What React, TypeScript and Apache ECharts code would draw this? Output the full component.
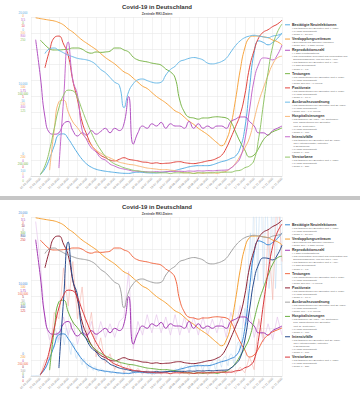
import React, { useEffect, useRef } from "react";
import * as echarts from "echarts";

const DATES = [
  "01.03.2020", "06.03.2020", "11.03.2020", "16.03.2020", "21.03.2020", "26.03.2020", "31.03.2020",
  "05.04.2020", "10.04.2020", "15.04.2020", "20.04.2020", "25.04.2020", "30.04.2020",
  "05.05.2020", "10.05.2020", "15.05.2020", "20.05.2020", "25.05.2020", "30.05.2020",
  "04.06.2020", "09.06.2020", "14.06.2020", "19.06.2020", "24.06.2020", "29.06.2020",
  "04.07.2020", "09.07.2020", "14.07.2020", "19.07.2020", "24.07.2020", "29.07.2020",
  "03.08.2020", "08.08.2020", "13.08.2020", "18.08.2020", "23.08.2020", "28.08.2020",
  "02.09.2020", "07.09.2020", "12.09.2020", "17.09.2020", "22.09.2020", "27.09.2020",
  "02.10.2020", "07.10.2020", "12.10.2020", "17.10.2020", "22.10.2020", "27.10.2020",
  "01.11.2020", "06.11.2020", "11.11.2020", "16.11.2020", "21.11.2020", "26.11.2020",
];

const NEUINFEKTIONEN = [null, null, 200, 900, 2200, 3800, 5200, 5300, 4700, 3800, 2900, 2100, 1500, 1100, 850, 700, 600, 520, 450, 380, 340, 330, 420, 480, 450, 400, 380, 400, 450, 520, 600, 700, 850, 1000, 1150, 1250, 1300, 1300, 1300, 1400, 1600, 1800, 1950, 2200, 2500, 3500, 6000, 11000, 15500, 17000, 16800, 16500, 16800, 17300, 18000];
const VERDOPPLUNG = [null, 1, 2, 3, 4, 5, 7, 10, 15, 19, 24, 29, 33, 37, 41, 46, 51, 55, 59, 64, 69, 72, 77, 82, 87, 90, 95, 100, 104, 108, 113, 118, 121, 126, 131, 135, 140, 144, 148, 153, 158, 162, 155, 136, 104, 67, 39, 26, 24, 24, 25, 26, 29, 31, 35];
const REPRODUKTION = [null, 3.0, 2.2, 1.3, 0.95, 0.92, 0.95, 1.15, 1.2, 1.0, 0.88, 0.95, 0.9, 1.0, 0.92, 0.98, 1.05, 0.95, 1.05, 1.0, 1.15, 1.75, 0.7, 0.95, 1.1, 1.05, 1.15, 1.1, 1.18, 1.05, 1.15, 1.1, 1.1, 1.05, 1.2, 1.05, 1.15, 1.05, 1.1, 1.05, 1.1, 1.1, 1.05, 1.2, 1.25, 1.3, 1.3, 1.2, 1.1, 0.95, 0.95, 0.9, 1.0, 1.05, 1.1];
const TESTUNGEN = [null, null, 29000, 35000, 40000, 41500, 41500, 41000, 40500, 39000, 39000, 40500, 44000, 45500, 44000, 44500, 44000, 43000, 39000, 39000, 41500, 44000, 50500, 54000, 55500, 56500, 58000, 59000, 60500, 65500, 69000, 76500, 104500, 119500, 126000, 127000, 128500, 127000, 127000, 126000, 125500, 126000, 127000, 132000, 144500, 157000, 167500, 176000, 173500, 165000, 154500, 148500, 144500, 142000, 139500];
const POSITIVRATE = [null, null, null, 6.8, 7.9, 8.7, 8.8, 8.3, 7.6, 6.0, 4.8, 3.4, 2.6, 1.95, 1.6, 1.3, 1.15, 1.0, 0.95, 1.05, 1.15, 1.05, 1.0, 0.95, 0.88, 0.86, 0.8, 0.83, 0.78, 0.8, 0.82, 0.88, 0.9, 0.84, 0.8, 0.78, 0.82, 0.88, 0.95, 1.0, 1.12, 1.3, 1.75, 2.4, 3.1, 3.85, 5.1, 6.8, 7.9, 8.7, 9.05, 9.2, 9.4, 9.55, 9.8];
const AUSBRUCH = [null, null, null, 23, 20, 19.5, 21, 22.5, 24, 25, 26, 26.5, 27, 28, 30, 33, 35, 38, 41, 43, 57, 47, 42, 39.5, 39, 40, 41, 41.5, 41, 36.5, 33, 31, 28, 27, 26, 25.5, 26, 27, 29, 29.5, 29, 28, 26, 22, 18, 15, 13, 12, 11.5, 12, 12.5, 13, 12, 11.5, 10.5];
const HOSPITAL = [null, null, null, null, 11, 87, 140, 143, 121, 102, 91, 79, 70, 58, 49, 43, 38, 34, 30, 26, 24, 22, 21, 19, 17, 15, 14, 13, 12, 12, 11, 10, 8, 6, 6, 5, 6, 5, 6, 6, 5, 7, 9, 15, 24, 38, 53, 72, 106, 140, 166, 190, 211, 223, 226];
const INTENSIV = [null, null, null, null, null, null, 40, 382, 674, 483, 407, 231, 181, 141, 121, 91, 80, 60, 50, 40, 35, 30, 25, 24, 22, 21, 20, 22, 20, 21, 23, 22, 24, 23, 25, 24, 26, 25, 27, 26, 28, 29, 30, 40, 60, 91, 181, 332, 483, 563, 594, 592, 584, 609, 659];
const VERSTORBENE = [null, null, 2, 16, 41, 75, 107, 127, 135, 134, 123, 104, 85, 68, 53, 41, 31, 24, 19, 16, 13, 11, 9, 8, 7, 6, 6, 5, 5, 5, 4, 5, 5, 5, 5, 4, 5, 5, 5, 5, 6, 6, 6, 6, 8, 9, 13, 16, 25, 60, 113, 163, 204, 226, 239];

// raw daily values (bottom panel)
const RAW_NEUINFEKTIONEN = [
  10, 15, 20, 30, 25, 40, 60, 50, 80, 120,
  150, 250, 400, 500, 700, 900, 1000, 1400, 1800, 2200,
  2000, 2400, 2900, 3500, 3900, 3600, 4400, 5000, 5500, 4200,
  4600, 6200, 6400, 6100, 5600, 4400, 3900, 5200, 6000, 5800,
  5000, 3800, 3100, 2700, 3900, 4200, 4000, 3500, 2400, 2200,
  2800, 3000, 2600, 2300, 1700, 1400, 2000, 2200, 1900, 1600,
  1100, 900, 1300, 1600, 1400, 1200, 800, 700, 1100, 1200,
  1000, 900, 600, 550, 800, 900, 850, 800, 700, 450,
  400, 650, 750, 650, 550, 450, 300, 400, 650, 600,
  500, 450, 300, 250, 400, 450, 400, 350, 300, 200,
  250, 350, 400, 350, 300, 250, 300, 450, 550, 600,
  650, 500, 350, 300, 550, 600, 550, 500, 400, 300,
  350, 500, 550, 500, 450, 350, 250, 400, 450, 400,
  380, 350, 250, 200, 400, 450, 450, 400, 350, 250,
  300, 500, 550, 600, 550, 400, 350, 600, 700, 650,
  750, 550, 450, 700, 800, 850, 900, 650, 550, 850,
  1000, 1100, 1150, 750, 600, 1100, 1300, 1350, 1300, 1200,
  800, 650, 1400, 1500, 1600, 1500, 1400, 800, 700, 1300,
  1500, 1500, 1600, 1400, 850, 650, 1200, 1300, 1400, 1400,
  1300, 850, 700, 1400, 1600, 1800, 1700, 1500, 900, 800,
  1800, 2000, 2200, 2100, 1400, 1100, 1900, 2200, 2400, 2500,
  2300, 1500, 1300, 2300, 2600, 2800, 2700, 2500, 1600, 1500,
  2800, 3600, 4000, 4300, 4100, 2900, 2600, 5500, 6800, 7500,
  8500, 7000, 6500, 11000, 14500, 16000, 18000, 15000, 12000, 19000,
  23000, 24500, 22000, 15500, 12000, 18000, 21500, 23000, 22500, 16000,
  11500, 14000, 19500, 22000, 21500, 18000, 11000, 12500, 17500, 22000,
  23500, 22500, 16000, 11000, 13500, 18500, 23000, 24000, 21500, 15000, 12000,
];
const RAW_REPRODUKTION = [null, 3.4, 2.5, 1.2, 0.8, 1.1, 0.8, 1.3, 0.9, 1.2, 0.7, 1.1, 0.8, 1.2, 0.8, 1.2, 0.85, 1.15, 0.85, 1.2, 1.3, 2.3, 0.6, 1.2, 0.9, 1.35, 0.95, 1.35, 0.95, 1.3, 0.9, 1.35, 0.9, 1.3, 0.95, 1.3, 0.9, 1.3, 0.9, 1.25, 0.95, 1.3, 0.85, 1.4, 1.05, 1.55, 1.1, 1.45, 0.85, 1.2, 0.75, 1.15, 0.8, 1.3, 0.9];
const RAW_VERSTORBENE = [null, null, 0, 25, 30, 100, 90, 170, 110, 180, 90, 140, 60, 100, 30, 60, 20, 35, 10, 25, 5, 18, 4, 12, 3, 10, 2, 9, 3, 8, 2, 9, 3, 8, 2, 8, 3, 9, 2, 8, 4, 9, 3, 10, 4, 14, 5, 30, 10, 90, 60, 230, 120, 300, 180];

const NAMES = ["Bestätigte Neuinfektionen", "Verdopplungszeitraum", "Reproduktionszahl", "Testungen", "Positivrate", "Ausbruchszuordnung", "Hospitalisierungen", "Intensivfälle", "Verstorbene"];
const SERIES_DATA = [NEUINFEKTIONEN, VERDOPPLUNG, REPRODUKTION, TESTUNGEN, POSITIVRATE, AUSBRUCH, HOSPITAL, INTENSIV, VERSTORBENE];
const SCALE_MAX = [20000, 200, 3.5, 200000, 10, 100, 300, 800, 250];
const SCALE_INVERSE = [false, true, false, true, false, true, false, false, false];

const STACK_TOP = ["20.000", "0", "3,5", "0", "10", "0", "300", "800", "250"];
const STACK_MID = ["10.000", "100", "1,75", "100.000", "5", "50", "150", "400", "125"];
const STACK_BOT = ["0", "200", "0", "200.000", "0", "100", "0", "0", "0"];

const BULLETS = [
  ["• aus täglichen RKI-Berichten (seit 4. März)", "• 14-Tage-Durchschnitt", "• Skala: 0 – 20.000"],
  ["• Berechnung aus täglichen Fallzahlen", "• Skala: 200 – 0 Tage (invers)"],
  ["• 4-Tage-Punktschätzung", "• aus Meldedatum (berechnet aus Meldedatum und", "  Erkrankungsbeginn; vom RKI bis 7. April)", "• aus täglichen RKI-Berichten (seit 7. April)", "• 7-Tage-Durchschnitt", "• Skala: 0 – 3,5"],
  ["• aus wöchentlichen RKI-Berichten (seit 9. März)", "• 14-Tage-Durchschnitt", "• Skala: 200.000 – 0 (invers)"],
  ["• aus wöchentlichen RKI-Berichten (seit 9. März)", "• 14-Tage-Durchschnitt", "• Skala: 0 – 10 %"],
  ["• aus wöchentlichen RKI-Berichten (seit 23. März)", "• 14-Tage-Durchschnitt", "• Skala: 100 – 0 % (invers)"],
  ["• aus täglichen (23. März – 10. September)", "  bzw. wöchentlichen RKI-Berichten", "  (seit 11. September)", "• 14-Tage-Durchschnitt", "• Skala: 0 – 300"],
  ["• aus täglichen RKI-Berichten (seit 27. März)", "  (DIVI-Intensivregister, Patienten", "  in Behandlung)", "• 14-Tage-Durchschnitt", "• Skala: 0 – 800"],
  ["• aus täglichen RKI-Berichten (seit 4. März)", "• 14-Tage-Durchschnitt", "• Skala: 0 – 250"],
];

const TOP_COLORS = ["#58aee3", "#f7a541", "#b252c2", "#7bb64a", "#e2463f", "#6dbbe8", "#f9b97a", "#c56bcc", "#93c56a"];
const BOTTOM_COLORS = ["#3a8ad6", "#f5a033", "#a338b3", "#f26a45", "#8e2234", "#a3a3a3", "#6cb043", "#274b8e", "#d8363a"];
const RAW_COLORS = ["#b9d7f0", "#e3bde9", "#f5b3ab"];

const FONT = "'Liberation Sans', Arial, sans-serif";

function buildOption() {
  const grid: any[] = [];
  const xAxis: any[] = [];
  const yAxis: any[] = [];
  const series: any[] = [];
  const graphic: any[] = [];

  graphic.push({ type: "rect", silent: true, shape: { x: 0, y: 196, width: 360, height: 4 }, style: { fill: "#c6c6c6" } });

  for (let p = 0; p < 2; p++) {
    const oy = p * 200;
    const colors = p === 0 ? TOP_COLORS : BOTTOM_COLORS;
    grid.push({ left: 31, top: 17 + oy, width: 251, height: 159 });
    xAxis.push({
      type: "category", gridIndex: p, data: DATES, boundaryGap: false,
      axisLine: { lineStyle: { color: "#cfcfcf", width: 0.6 } },
      axisTick: { show: false },
      axisLabel: { interval: 1, rotate: 45, fontSize: 3, color: "#8a8a8a", margin: 2, fontFamily: FONT },
      splitLine: { show: true, interval: 1, lineStyle: { color: "#e6e6e6", width: 0.5 } },
    });
    xAxis.push({ type: "value", gridIndex: p, min: 0, max: RAW_NEUINFEKTIONEN.length - 1, show: false });
    const base = yAxis.length;
    yAxis.push({
      type: "value", gridIndex: p, min: 0, max: 10, interval: 1,
      axisLabel: { show: false }, axisLine: { show: false }, axisTick: { show: false },
      splitLine: { show: true, lineStyle: { color: "#e2e2e2", width: 0.5 } },
    });
    for (let k = 0; k < 9; k++) {
      yAxis.push({ type: "value", gridIndex: p, min: 0, max: SCALE_MAX[k], inverse: SCALE_INVERSE[k], show: false });
    }
    if (p === 1) {
      series.push({
        type: "line", name: "raw0", xAxisIndex: 2 * p + 1, yAxisIndex: base + 1,
        data: RAW_NEUINFEKTIONEN.map((v, d) => [d, v]), symbol: "none", z: 1,
        lineStyle: { width: 0.5, color: RAW_COLORS[0] }, silent: true,
      });
      series.push({
        type: "line", name: "raw2", xAxisIndex: 2 * p, yAxisIndex: base + 3,
        data: RAW_REPRODUKTION, symbol: "none", z: 1,
        lineStyle: { width: 0.6, color: RAW_COLORS[1] }, silent: true,
      });
      series.push({
        type: "line", name: "raw8", xAxisIndex: 2 * p, yAxisIndex: base + 9,
        data: RAW_VERSTORBENE, symbol: "none", z: 1,
        lineStyle: { width: 0.6, color: RAW_COLORS[2] }, silent: true,
      });
    }
    for (let k = 0; k < 9; k++) {
      series.push({
        type: "line", name: NAMES[k], xAxisIndex: 2 * p, yAxisIndex: base + 1 + k,
        data: SERIES_DATA[k], smooth: 0.5, symbol: "none", z: 3,
        lineStyle: { width: 1, color: colors[k] }, itemStyle: { color: colors[k] },
      });
    }

    // titles
    graphic.push({
      type: "text", x: 157, y: oy + 7,
      style: { text: "Covid-19 in Deutschland", fontSize: 6, fontWeight: "bold", fontFamily: FONT, fill: "#333", align: "center", verticalAlign: "middle" },
    });
    graphic.push({
      type: "text", x: 157, y: oy + 13.5,
      style: { text: "Zentrale RKI-Daten", fontSize: 3.4, fontWeight: "bold", fontFamily: FONT, fill: "#555", align: "center", verticalAlign: "middle" },
    });

    // left stacks
    const stacks = [STACK_TOP, STACK_MID, STACK_BOT];
    const starts = [12.5, 83.5, 153.5];
    stacks.forEach((st, si) => {
      st.forEach((t, k) => {
        graphic.push({
          type: "text", x: 23, y: oy + starts[si] + k * 3.35,
          style: { text: t, fontSize: 2.9, fontFamily: FONT, fill: colors[k], align: "center", verticalAlign: "middle" },
        });
      });
    });

    // legend
    let y = oy + 24.8;
    for (let k = 0; k < 9; k++) {
      graphic.push({ type: "line", shape: { x1: 285, y1: y, x2: 290, y2: y }, style: { stroke: colors[k], lineWidth: 1 } });
      graphic.push({
        type: "text", x: 292, y,
        style: { text: NAMES[k], fontSize: 3.6, fontWeight: "bold", fontFamily: FONT, fill: "#333", align: "left", verticalAlign: "middle" },
      });
      BULLETS[k].forEach((b, j) => {
        graphic.push({
          type: "text", x: 292, y: y + 3.4 + j * 3.05,
          style: { text: b, fontSize: 2.45, fontFamily: FONT, fill: "#666", align: "left", verticalAlign: "middle" },
        });
      });
      y += 5.1 + BULLETS[k].length * 3.05;
    }
  }

  return { animation: false, backgroundColor: "#ffffff", grid, xAxis, yAxis, series, graphic };
}

export default function App() {
  const ref = useRef<HTMLDivElement>(null);
  useEffect(() => {
    if (!ref.current) return;
    const chart = echarts.init(ref.current, null, { renderer: "svg" });
    chart.setOption(buildOption() as any);
    return () => chart.dispose();
  }, []);
  return <div ref={ref} style={{ position: "absolute", left: 0, top: 0, width: 360, height: 398 }} />;
}
